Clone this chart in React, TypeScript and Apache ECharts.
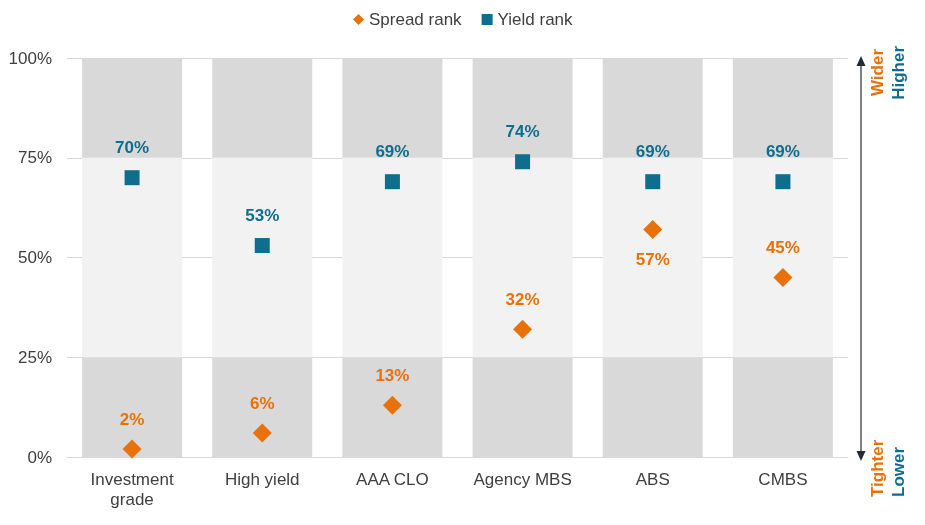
import React, { useEffect, useRef } from "react";
import * as echarts from "echarts";

const categories = ["Investment\ngrade", "High yield", "AAA CLO", "Agency MBS", "ABS", "CMBS"];
const spreadRank = [2, 6, 13, 32, 57, 45];
const yieldRank = [70, 53, 69, 74, 69, 69];
const spreadLabelBelow = [false, false, false, false, true, false];
const bandLower = [25, 25, 25, 25, 25, 25];
const bandMiddle = [50, 50, 50, 50, 50, 50];
const bandUpper = [25, 25, 25, 25, 25, 25];

const ORANGE = "#e8710a";
const TEAL = "#0f6e8e";
const DARK = "#d9d9d9";
const LIGHT = "#f2f2f2";
const TEXT = "#404040";
const FONT = "Arial, 'Liberation Sans', sans-serif";

export default function App() {
  const ref = useRef<HTMLDivElement>(null);
  useEffect(() => {
    if (!ref.current) return;
    const chart = echarts.init(ref.current, undefined, { renderer: "svg" });
    const bandSeries = (name: string, data: number[], color: string) => ({
      name,
      type: "bar",
      stack: "band",
      data,
      barWidth: 100,
      itemStyle: { color },
      silent: true,
      z: 1,
    });
    chart.setOption({
      animation: false,
      textStyle: { fontFamily: FONT },
      legend: {
        data: [
          { name: "Spread rank", icon: "diamond" },
          { name: "Yield rank", icon: "rect" },
        ],
        left: 348,
        top: 6,
        itemWidth: 11,
        itemHeight: 11,
        itemGap: 20,
        textStyle: { color: TEXT, fontSize: 17, fontFamily: FONT },
      },
      grid: { left: 67, right: 77, top: 58, bottom: 68 },
      xAxis: {
        type: "category",
        data: categories,
        axisLine: { lineStyle: { color: DARK } },
        axisTick: { show: false },
        axisLabel: { color: TEXT, fontSize: 17, lineHeight: 20, margin: 12, interval: 0, fontFamily: FONT },
      },
      yAxis: {
        type: "value",
        min: 0,
        max: 100,
        interval: 25,
        axisLine: { show: false },
        axisTick: { show: false },
        axisLabel: { color: TEXT, fontSize: 17, margin: 15, formatter: "{value}%", fontFamily: FONT },
        splitLine: { lineStyle: { color: DARK } },
      },
      series: [
        bandSeries("lower", bandLower, DARK),
        bandSeries("middle", bandMiddle, LIGHT),
        bandSeries("upper", bandUpper, DARK),
        {
          name: "Spread rank",
          type: "scatter",
          symbol: "diamond",
          symbolSize: 19,
          itemStyle: { color: ORANGE, opacity: 1 },
          z: 5,
          data: spreadRank.map((v, i) => ({
            value: v,
            label: { position: spreadLabelBelow[i] ? "bottom" : "top" },
          })),
          label: {
            show: true,
            formatter: "{c}%",
            color: ORANGE,
            fontSize: 17,
            fontWeight: "bold",
            distance: 12,
            fontFamily: FONT,
          },
        },
        {
          name: "Yield rank",
          type: "scatter",
          symbol: "rect",
          symbolSize: 15,
          itemStyle: { color: TEAL, opacity: 1 },
          z: 5,
          data: yieldRank,
          label: {
            show: true,
            position: "top",
            formatter: "{c}%",
            color: TEAL,
            fontSize: 17,
            fontWeight: "bold",
            distance: 14,
            fontFamily: FONT,
          },
        },
      ],
      graphic: [
        { type: "line", shape: { x1: 861, y1: 62, x2: 861, y2: 454 }, style: { stroke: "#222a35", lineWidth: 1.2 } },
        { type: "polygon", shape: { points: [[861, 56], [856.5, 66], [865.5, 66]] }, style: { fill: "#222a35" } },
        { type: "polygon", shape: { points: [[861, 461], [856.5, 451], [865.5, 451]] }, style: { fill: "#222a35" } },
        {
          type: "text", x: 877, y: 49, rotation: Math.PI / 2,
          style: { text: "Wider", fill: ORANGE, font: `bold 17px ${FONT}`, textAlign: "right", textVerticalAlign: "middle" },
        },
        {
          type: "text", x: 898, y: 46, rotation: Math.PI / 2,
          style: { text: "Higher", fill: TEAL, font: `bold 17px ${FONT}`, textAlign: "right", textVerticalAlign: "middle" },
        },
        {
          type: "text", x: 877, y: 497, rotation: Math.PI / 2,
          style: { text: "Tighter", fill: ORANGE, font: `bold 17px ${FONT}`, textAlign: "left", textVerticalAlign: "middle" },
        },
        {
          type: "text", x: 898, y: 497, rotation: Math.PI / 2,
          style: { text: "Lower", fill: TEAL, font: `bold 17px ${FONT}`, textAlign: "left", textVerticalAlign: "middle" },
        },
      ],
    });
    return () => chart.dispose();
  }, []);
  return <div ref={ref} style={{ position: "fixed", left: 0, top: 0, width: 925, height: 525 }} />;
}
